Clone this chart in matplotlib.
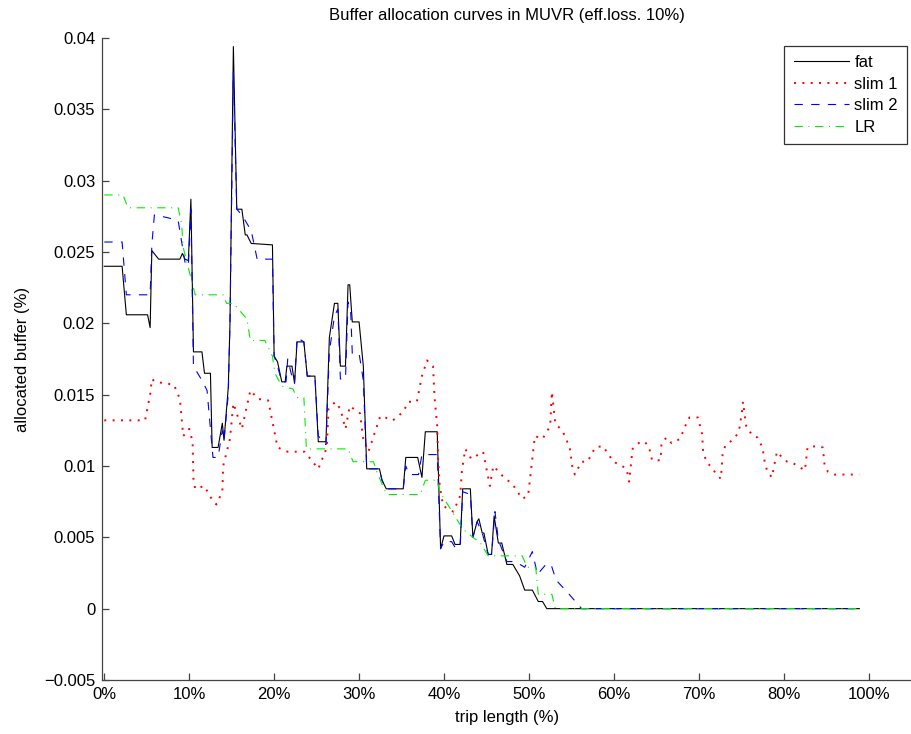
import numpy as np
import matplotlib
matplotlib.use('Agg')
import matplotlib.pyplot as plt

plt.rcParams['font.family'] = ['Liberation Sans', 'DejaVu Sans']

# trip length (%) and allocated buffer
fat_x = [0.0, 2.1, 2.6, 5.1, 5.4, 5.6, 6.4, 8.9, 9.2, 9.5, 9.9, 10.2, 10.5,
         11.5, 11.8, 12.5, 12.7, 13.4, 13.9, 14.1, 14.6, 14.8, 15.2, 15.6,
         16.2, 16.6, 16.8, 17.3, 19.8, 20.0, 20.4, 20.9, 21.3, 21.5, 22.1,
         22.4, 22.7, 23.5, 23.9, 24.8, 25.2, 26.1, 26.5, 27.1, 27.5, 27.8,
         28.4, 28.7, 28.9, 29.2, 30.0, 30.5, 30.9, 32.4, 32.7, 33.2, 35.2,
         35.5, 36.9, 37.4, 37.8, 39.2, 39.6, 40.0, 40.9, 41.3, 41.9, 42.2,
         43.1, 43.4, 43.9, 44.1, 44.5, 44.7, 45.2, 45.6, 45.9, 46.4, 46.8,
         47.4, 48.1, 48.9, 49.5, 50.4, 51.1, 51.6, 52.1, 88.9]
fat_y = [0.0240, 0.0240, 0.0206, 0.0206, 0.0197, 0.0251, 0.0245, 0.0245,
         0.0249, 0.0245, 0.0244, 0.0287, 0.0180, 0.0180, 0.0165, 0.0165,
         0.0113, 0.0113, 0.0130, 0.0118, 0.0155, 0.0200, 0.0394, 0.0280,
         0.0280, 0.0262, 0.0262, 0.0256, 0.0255, 0.0177, 0.0173, 0.0159,
         0.0159, 0.0170, 0.0170, 0.0158, 0.0187, 0.0187, 0.0163, 0.0163,
         0.0117, 0.0117, 0.0190, 0.0214, 0.0214, 0.0170, 0.0170, 0.0227,
         0.0227, 0.0201, 0.0201, 0.0170, 0.0098, 0.0098, 0.0090, 0.0084,
         0.0084, 0.0106, 0.0106, 0.0092, 0.0124, 0.0124, 0.0042, 0.0051,
         0.0051, 0.0045, 0.0045, 0.0084, 0.0084, 0.0050, 0.0061, 0.0063,
         0.0053, 0.0053, 0.0038, 0.0038, 0.0065, 0.0046, 0.0046, 0.0031,
         0.0031, 0.0023, 0.0013, 0.0013, 0.0005, 0.0005, 0.0, 0.0]

slim1_x = [0.0, 4.8, 5.4, 5.6, 6.0, 8.2, 8.9, 9.2, 9.3, 10.0, 10.4, 10.5,
           10.7, 11.8, 12.4, 13.2, 13.9, 14.0, 14.8, 15.2, 16.2, 17.2, 18.1,
           19.3, 19.9, 20.4, 21.6, 23.6, 25.2, 26.2, 26.4, 27.2, 27.8, 28.4,
           28.9, 30.1, 30.5, 31.1, 32.1, 32.5, 33.6, 34.0, 35.2, 35.8, 36.8,
           37.4, 38.0, 38.7, 38.9, 39.2, 39.3, 39.5, 39.9, 41.1, 41.9, 42.1,
           42.5, 43.2, 44.6, 45.4, 45.8, 46.9, 48.1, 49.2, 49.9, 50.4, 50.7,
           51.6, 52.5, 52.7, 53.1, 54.0, 54.8, 55.1, 55.4, 56.2, 56.9, 57.8,
           58.7, 59.5, 59.9, 60.7, 61.5, 61.8, 62.2, 63.1, 63.6, 64.1, 64.5,
           65.5, 65.6, 66.2, 66.8, 67.8, 68.4, 68.9, 69.9, 70.4, 70.5, 70.9,
           71.5, 72.1, 72.6, 72.8, 73.1, 73.9, 74.5, 74.8, 75.1, 75.2, 75.6,
           76.4, 76.9, 77.5, 77.8, 78.1, 78.6, 79.2, 79.8, 80.4, 81.1, 81.9,
           82.5, 82.8, 83.9, 84.6, 84.8, 85.2, 86.0, 88.9]
slim1_y = [0.0132, 0.0132, 0.0150, 0.0161, 0.0159, 0.0157, 0.0147, 0.0128,
           0.0121, 0.0126, 0.0117, 0.0091, 0.0084, 0.0086, 0.0079, 0.0073,
           0.0082, 0.0100, 0.0119, 0.0144, 0.0126, 0.0153, 0.0147, 0.0146,
           0.0128, 0.0113, 0.0110, 0.0110, 0.0098, 0.0113, 0.0140, 0.0145,
           0.0140, 0.0126, 0.0142, 0.0137, 0.0119, 0.0110, 0.0128, 0.0135,
           0.0133, 0.0132, 0.0138, 0.0145, 0.0145, 0.0163, 0.0174, 0.0170,
           0.0147, 0.0128, 0.0105, 0.0086, 0.0072, 0.0068, 0.0079, 0.0096,
           0.0112, 0.0105, 0.0110, 0.0086, 0.0100, 0.0093, 0.0087, 0.0077,
           0.0079, 0.0105, 0.0121, 0.0119, 0.0128, 0.0152, 0.0130, 0.0124,
           0.0113, 0.0100, 0.0094, 0.0103, 0.0103, 0.0113, 0.0114, 0.0107,
           0.0103, 0.0101, 0.0098, 0.0089, 0.0112, 0.0117, 0.0117, 0.0114,
           0.0104, 0.0104, 0.0116, 0.0120, 0.0116, 0.0119, 0.0128, 0.0134,
           0.0134, 0.0122, 0.0110, 0.0103, 0.0099, 0.0094, 0.0091, 0.0108,
           0.0114, 0.0118, 0.0122, 0.0127, 0.0139, 0.0145, 0.0127, 0.0121,
           0.0120, 0.0113, 0.0101, 0.0096, 0.0092, 0.0110, 0.0106, 0.0103,
           0.0102, 0.0099, 0.0097, 0.0113, 0.0114, 0.0113, 0.0101, 0.0096,
           0.0094, 0.0094]

slim2_x = [0.0, 2.1, 2.6, 5.4, 5.6, 5.9, 7.5, 8.7, 9.5, 9.9, 10.2, 10.5,
           11.5, 12.1, 12.8, 13.4, 13.9, 14.1, 14.6, 14.8, 15.2, 15.6, 16.2,
           17.3, 18.0, 19.8, 20.0, 20.4, 20.9, 21.4, 21.6, 22.0, 22.4, 22.7,
           23.5, 23.9, 24.8, 25.2, 26.1, 26.5, 27.1, 27.5, 27.8, 28.4, 28.7,
           29.0, 29.2, 30.0, 30.5, 30.9, 32.4, 32.7, 33.2, 35.2, 35.5, 35.9,
           37.0, 37.4, 39.2, 39.6, 40.0, 40.9, 41.3, 41.9, 42.2, 43.1, 43.4,
           43.9, 44.5, 45.2, 45.6, 46.0, 46.4, 47.4, 48.4, 49.5, 50.4, 51.0,
           52.0, 52.6, 53.2, 54.6, 56.2, 88.9]
slim2_y = [0.0257, 0.0257, 0.0220, 0.0220, 0.0255, 0.0276, 0.0274, 0.0272,
           0.0243, 0.0240, 0.0280, 0.0170, 0.0160, 0.0153, 0.0106, 0.0106,
           0.0125, 0.0118, 0.0150, 0.0200, 0.0376, 0.0280, 0.0276, 0.0265,
           0.0245, 0.0245, 0.0177, 0.0170, 0.0159, 0.0159, 0.0175, 0.0165,
           0.0158, 0.0190, 0.0187, 0.0163, 0.0163, 0.0121, 0.0115, 0.0180,
           0.0205, 0.0210, 0.0161, 0.0161, 0.0215, 0.0210, 0.0179, 0.0179,
           0.0160, 0.0098, 0.0098, 0.0090, 0.0084, 0.0084, 0.0100, 0.0094,
           0.0094, 0.0108, 0.0108, 0.0042, 0.0047, 0.0047, 0.0043, 0.0043,
           0.0082, 0.0080, 0.0050, 0.0061, 0.0053, 0.0038, 0.0038, 0.0068,
           0.0048, 0.0033, 0.0033, 0.0029, 0.0040, 0.0024, 0.0031, 0.0031,
           0.0020, 0.0011, 0.0, 0.0]

lr_x = [0.0, 2.2, 2.8, 8.7, 9.1, 9.3, 10.7, 14.0, 14.4, 15.2, 16.8, 17.2,
        18.9, 19.8, 20.1, 20.9, 22.2, 22.7, 23.5, 23.8, 28.7, 29.3, 31.7,
        32.0, 33.1, 33.3, 37.2, 37.8, 39.2, 39.5, 42.2, 43.6, 44.2, 45.2,
        49.2, 49.8, 50.8, 51.1, 52.7, 53.1, 88.9]
lr_y = [0.0290, 0.0290, 0.0281, 0.0281, 0.0270, 0.0253, 0.0220, 0.0220,
        0.0214, 0.0214, 0.0203, 0.0188, 0.0188, 0.0177, 0.0165, 0.0156,
        0.0154, 0.0148, 0.0148, 0.0112, 0.0112, 0.0103, 0.0103, 0.0097,
        0.0082, 0.0080, 0.0080, 0.0090, 0.0090, 0.0082, 0.0056, 0.0049,
        0.0047, 0.0037, 0.0037, 0.0029, 0.0029, 0.0010, 0.0010, 0.0, 0.0]

xticks = np.arange(0, 100, 10)
xticklabels = ['0%', '10%', '20%', '30%', '40%', '50%', '60%', '70%', '80%', '100%']
yticks = np.arange(-0.005, 0.0401, 0.005)
yticklabels = ['\u22120.005', '0', '0.005', '0.01', '0.015', '0.02',
               '0.025', '0.03', '0.035', '0.04']

fig = plt.figure(figsize=(9.12, 7.34), dpi=100)
ax = fig.add_axes([0.112, 0.0736, 0.888, 0.8746])

ax.plot(fat_x, fat_y, color='k', lw=0.8, label='fat')
ax.plot(slim1_x, slim1_y, color='r', lw=1.4, dashes=(1.0, 3.3), label='slim 1')
ax.plot(slim2_x, slim2_y, color='b', lw=0.8, dashes=(7.5, 7.5), label='slim 2')
ax.plot(lr_x, lr_y, color='#00ee00', lw=0.8, dashes=(7.5, 5, 1, 5), label='LR')

ax.set_xlim(-0.25, 95.1)
ax.set_ylim(-0.005, 0.04)
ax.set_xticks(xticks)
ax.set_xticklabels(xticklabels)
ax.set_yticks(yticks)
ax.set_yticklabels(yticklabels)

for s in ('top', 'right'):
    ax.spines[s].set_visible(False)
for s in ('left', 'bottom'):
    ax.spines[s].set_color('#444444')
    ax.spines[s].set_linewidth(0.9)
ax.tick_params(direction='in', length=5, width=0.9, color='#444444',
               labelsize=12, pad=5)

ax.set_title('Buffer allocation curves in MUVR (eff.loss. 10%)', fontsize=12, pad=13)
ax.set_xlabel('trip length (%)', fontsize=12, labelpad=6)
ax.set_ylabel('allocated buffer (%)', fontsize=12, labelpad=10)

leg = ax.legend(loc='upper right', bbox_to_anchor=(0.994, 0.988),
                borderaxespad=0, fontsize=12, fancybox=False,
                handlelength=3.3, handletextpad=0.35, labelspacing=0.4,
                borderpad=0.55)
leg.get_frame().set_edgecolor('k')
leg.get_frame().set_linewidth(0.9)

plt.savefig('out.png', dpi=100)
